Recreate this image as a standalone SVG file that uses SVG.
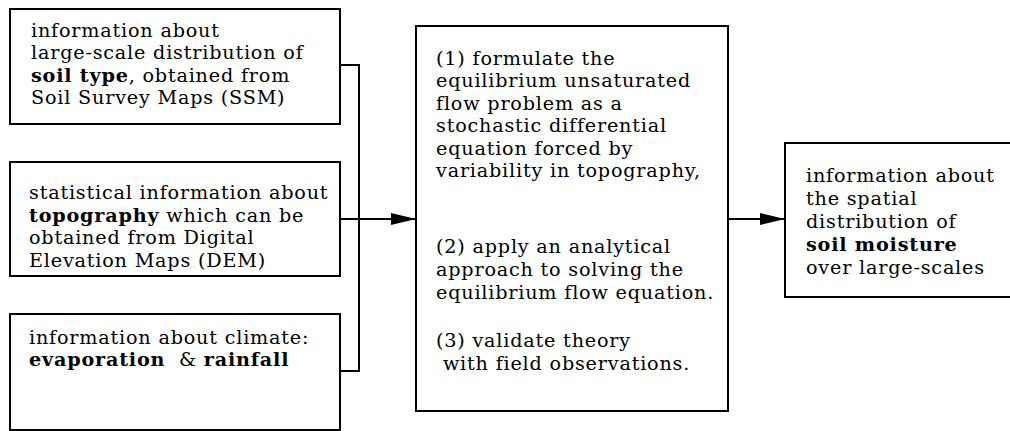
<svg xmlns="http://www.w3.org/2000/svg" width="1010" height="431" viewBox="0 0 1010 431">
<style>
.box{fill:#fff;stroke:#000;stroke-width:2}
.t{font-family:"DejaVu Serif","Liberation Serif",serif;font-size:19.2px;letter-spacing:0.8px;fill:#000;white-space:pre}
.b{font-weight:bold}
.c{fill:none;stroke:#000;stroke-width:2}
</style>
<defs>
<marker id="ah" markerUnits="userSpaceOnUse" markerWidth="26" markerHeight="14" refX="25" refY="7" orient="auto">
<path d="M0,1 L25,7 L0,13 Z" fill="#000"/>
</marker>
</defs>
<rect width="1010" height="431" fill="#fff"/>
<g id="connectors">
<polyline class="c" points="340,65 359,65 359,371 340,371"/>
<line class="c" x1="340" y1="219" x2="416" y2="219" marker-end="url(#ah)"/>
<line class="c" x1="728" y1="219" x2="785" y2="219" marker-end="url(#ah)"/>
</g>
<g id="soil-type">
<rect class="box" x="10" y="9" width="330" height="115"/>
<text class="t" xml:space="preserve"><tspan x="31" y="36.5">information about</tspan><tspan x="31" y="59">large-scale distribution of</tspan><tspan x="31" y="81.5"><tspan class="b">soil type</tspan>, obtained from</tspan><tspan x="31" y="104">Soil Survey Maps (SSM)</tspan></text>
</g>
<g id="topography">
<rect class="box" x="10" y="162" width="330" height="114"/>
<text class="t" xml:space="preserve"><tspan x="29" y="199">statistical information about</tspan><tspan x="29" y="221.5"><tspan class="b">topography</tspan> which can be</tspan><tspan x="29" y="244">obtained from Digital</tspan><tspan x="29" y="266.5">Elevation Maps (DEM)</tspan></text>
</g>
<g id="climate">
<rect class="box" x="10" y="314" width="330" height="116"/>
<text class="t" xml:space="preserve"><tspan x="29" y="343.5">information about climate:</tspan><tspan x="29" y="366"><tspan class="b">evaporation</tspan>  &amp; <tspan class="b">rainfall</tspan></tspan></text>
</g>
<g id="method">
<rect class="box" x="416" y="26" width="312" height="385"/>
<text class="t" xml:space="preserve"><tspan x="436" y="64.5">(1) formulate the</tspan><tspan x="436" y="87">equilibrium unsaturated</tspan><tspan x="436" y="109.5">flow problem as a</tspan><tspan x="436" y="132">stochastic differential</tspan><tspan x="436" y="154.5">equation forced by</tspan><tspan x="436" y="177">variability in topography,</tspan></text>
<text class="t" xml:space="preserve"><tspan x="436" y="253">(2) apply an analytical</tspan><tspan x="436" y="276">approach to solving the</tspan><tspan x="436" y="299">equilibrium flow equation.</tspan></text>
<text class="t" xml:space="preserve"><tspan x="436" y="347">(3) validate theory</tspan><tspan x="436" y="370"> with field observations.</tspan></text>
</g>
<g id="soil-moisture">
<rect class="box" x="785" y="143" width="240" height="154"/>
<text class="t" xml:space="preserve"><tspan x="806" y="182">information about</tspan><tspan x="806" y="205">the spatial</tspan><tspan x="806" y="228">distribution of</tspan><tspan x="806" y="251" class="b">soil moisture</tspan><tspan x="806" y="274">over large-scales</tspan></text>
</g>
</svg>
